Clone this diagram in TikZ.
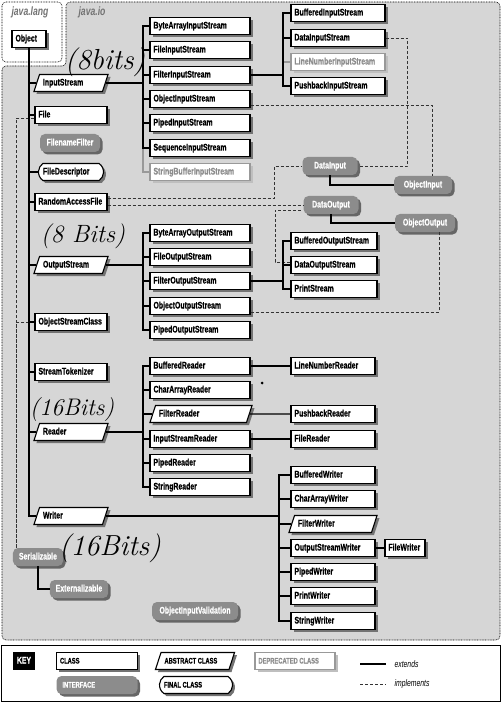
\documentclass[tikz,border=0pt]{standalone}
\usepackage{fontspec}
\usetikzlibrary{shapes.geometric}
\usetikzlibrary{shapes.misc}
\usetikzlibrary{shadows}
\newfontfamily\iosans{Liberation Sans}[FakeStretch=0.72,BoldFeatures={FakeBold=0.6}]
\newcommand\ioboxfont{\iosans\bfseries\fontsize{9.6}{11}\selectfont}
\newcommand\iokeyfont{\iosans\bfseries\fontsize{8}{9}\selectfont}
\colorlet{iogray}{black!16}
\colorlet{ifacegray}{black!45}
\colorlet{shadowgray}{black!55}
\tikzset{
  shade box/.style={drop shadow={shadow xshift=2.5pt,shadow yshift=-2.5pt,opacity=1,fill=#1}},
  shade box/.default=shadowgray,
  box/.style={draw,line width=1.1pt,fill=white,inner xsep=3.5,inner ysep=4,text height=7,text depth=2,align=flush left,font=\ioboxfont},
  class/.style={box,shade box,text width=#1},
  class/.default=93,
  abstract class/.style={box,shade box,trapezium,trapezium left angle=72,trapezium right angle=108,text width=#1},
  final class/.style={box,shade box,rounded rectangle,rounded rectangle arc length=110,text width=#1},
  deprecated class/.style={box,shade box=black!25,draw=black!40,text=black!45,text width=#1},
  interface/.style={fill=ifacegray,text=white,rounded corners=5,inner xsep=6,inner ysep=4.5,text height=7,text depth=2,font=\ioboxfont,shade box=black!60},
  key/.style={fill=black,text=white,inner xsep=4,inner ysep=4.5,text height=7,text depth=2,font=\iosans\bfseries\fontsize{9.5}{10}\selectfont},
  key label/.style={font=\iokeyfont},
  legend/.style={font=\iosans\itshape\fontsize{9.5}{10}\selectfont,anchor=west},
  extends/.style={line width=1.1pt},
  implements/.style={line width=0.7pt,draw=black!80,dash pattern=on 3pt off 2pt},
  region/.style={line width=0.6pt,dash pattern=on 0.8pt off 0.8pt,rounded corners=4},
  package/.style={font=\iosans\bfseries\itshape\fontsize{12}{13}\selectfont,text=black!55},
  scribble/.style={font=\itshape\fontsize{#1}{#1}\selectfont}
}

\begin{document}
\begin{tikzpicture}[x=1pt,y=-1pt]
    \useasboundingbox (0,0) rectangle (502,703);

    % packages
    \draw[region,fill=iogray] (66,2) -- (500,2) -- (500,640) -- (2,640) -- (2,66) -- (66,66) -- cycle;
    \draw[region,fill=white] (2,2) rectangle (62,62);
    \node[package] (lang) at (30,12) {java.lang};
    \node[package] (io) at (92,12) {java.io};

    \node[class=27] (obj) at (29,39) {Object};

    \node[abstract class=56] (is) at (71,83) {InputStream};
    \node[class=65] (file) at (71,115) {File};
    \node[interface,minimum width=60] (fnf) at (70,143) {FilenameFilter};
    \node[final class=56] (fd) at (71,172) {FileDescriptor};
    \node[class=65] (raf) at (71,202) {RandomAccessFile};
    \node[abstract class=56] (os) at (71,265) {OutputStream};
    \node[class=65] (osc) at (71,322) {ObjectStreamClass};
    \node[class=65] (st) at (71,372) {StreamTokenizer};
    \node[abstract class=56] (rd) at (71,432) {Reader};
    \node[abstract class=56] (wr) at (71,516) {Writer};
    \node[interface,minimum width=48] (ser) at (38,557) {Serializable};
    \node[interface,minimum width=58] (ext) at (79,589) {Externalizable};
    \node[interface,minimum width=86] (oiv) at (195,611) {ObjectInputValidation};

    \node[class] (bais) at (200,26) {ByteArrayInputStream};
    \node[class] (fis) at (200,50) {FileInputStream};
    \node[class] (flis) at (200,75) {FilterInputStream};
    \node[class] (ois) at (200,99) {ObjectInputStream};
    \node[class] (pis) at (200,123) {PipedInputStream};
    \node[class] (sis) at (200,148) {SequenceInputStream};
    \node[deprecated class=93] (sbis) at (200,172) {StringBufferInputStream};

    \node[class=87] (bis) at (338,13) {BufferedInputStream};
    \node[class=87] (dis) at (338,38) {DataInputStream};
    \node[deprecated class=87] (lnis) at (338,62) {LineNumberInputStream};
    \node[class=87] (pbis) at (338,86) {PushbackInputStream};

    \node[interface,minimum width=55] (di) at (330,166) {DataInput};
    \node[interface,minimum width=58] (oi) at (423,185) {ObjectInput};
    \node[interface,minimum width=55] (do) at (331,205) {DataOutput};
    \node[interface,minimum width=60] (oo) at (425,223) {ObjectOutput};

    \node[class] (baos) at (200,233) {ByteArrayOutputStream};
    \node[class] (fos) at (200,257) {FileOutputStream};
    \node[class] (flos) at (200,281) {FilterOutputStream};
    \node[class] (oos) at (200,306) {ObjectOutputStream};
    \node[class] (pos) at (200,330) {PipedOutputStream};

    \node[class=79] (bos) at (334,241) {BufferedOutputStream};
    \node[class=79] (dos) at (334,265) {DataOutputStream};
    \node[class=79] (ps) at (334,289) {PrintStream};

    \node[class] (br) at (200,366) {BufferedReader};
    \node[class] (car) at (200,390) {CharArrayReader};
    \node[abstract class=84] (flr) at (201,414) {FilterReader};
    \node[class] (isr) at (200,439) {InputStreamReader};
    \node[class] (pr) at (200,463) {PipedReader};
    \node[class] (sr) at (200,487) {StringReader};

    \node[class=77] (lnr) at (333,366) {LineNumberReader};
    \node[class=77] (pbr) at (333,414) {PushbackReader};
    \node[class=77] (fr) at (333,439) {FileReader};

    \node[class=77] (bw) at (333,475) {BufferedWriter};
    \node[class=77] (cw) at (333,499) {CharArrayWriter};
    \node[abstract class=70] (flw) at (333,524) {FilterWriter};
    \node[class=77] (osw) at (333,548) {OutputStreamWriter};
    \node[class=77] (pw) at (333,572) {PipedWriter};
    \node[class=77] (prw) at (333,596) {PrintWriter};
    \node[class=77] (sw) at (333,621) {StringWriter};
    \node[class=33] (fw) at (405,548) {FileWriter};

    % implements
    \draw[implements] ([yshift=-3pt]file.west) -| ([xshift=4pt]ser.north west);
    \draw[implements] (osc.west) -| ([xshift=4pt]ser.north west);
    \draw[implements] ([yshift=4pt]raf.east) -| ([xshift=-28pt]di.west) -- (di.west);
    \draw[implements] (raf.east |- do.west) -- (do.west);
    \draw[implements] (dis.east) -- ++(22,0) |- (di.east);
    \draw[implements] ([yshift=-6pt]ois.east) -| ([xshift=9pt]oi.north);
    \draw[implements] ([yshift=3pt]dos.west) -- ++(-15,0) |- ([yshift=-5pt]do.west);
    \draw[implements] ([yshift=-6pt]oos.east) -| ([xshift=14pt]oo.south);

    % extends
    \foreach \n in {is,file,fd,raf,os,osc,st,rd,wr}
      \draw[extends] (obj.south) |- (\n.west);

    \coordinate (isj) at (143,83);
    \draw[extends,draw=black!40] (isj) |- (sbis.west);
    \draw[extends] (is.east) -- (isj);
    \foreach \n in {bais,fis,flis,ois,pis,sis}
      \draw[extends] (isj) |- (\n.west);

    \coordinate (flisj) at (283,75);
    \draw[extends,draw=black!40] (flisj) |- (lnis.west);
    \draw[extends] (flis.east) -- (flisj);
    \foreach \n in {bis,dis,pbis}
      \draw[extends] (flisj) |- (\n.west);

    \coordinate (osj) at (143,265);
    \draw[extends] (os.east) -- (osj);
    \foreach \n in {baos,fos,flos,oos,pos}
      \draw[extends] (osj) |- (\n.west);

    \coordinate (flosj) at (283,281);
    \draw[extends] (flos.east) -- (flosj);
    \foreach \n in {bos,dos,ps}
      \draw[extends] (flosj) |- (\n.west);

    \coordinate (rdj) at (143,432);
    \draw[extends] (rd.east) -- (rdj);
    \foreach \n in {br,car,flr,isr,pr,sr}
      \draw[extends] (rdj) |- (\n.west);
    \draw[extends] (br) -- (lnr);
    \draw[extends] (flr) -- (pbr);
    \draw[extends] (isr) -- (fr);

    \coordinate (wrj) at (279,516);
    \draw[extends] (wr.east) -- (wrj);
    \foreach \n in {bw,cw,flw,osw,pw,prw,sw}
      \draw[extends] (wrj) |- (\n.west);
    \draw[extends] (osw) -- (fw);

    \draw[extends] (di.south) |- (oi.west);
    \draw[extends] (do.south) |- (oo.west);
    \draw[extends] (ser.south) |- (ext.west);

    % key
    \draw[line width=0.8pt,fill=white] (1,645) rectangle (500,701);
    \node[key] (keyhead) at (24,661) {KEY};
    \node[class=74,key label] (kcls) at (97,661) {CLASS};
    \node[abstract class=61,key label] (kabs) at (195,661) {ABSTRACT CLASS};
    \node[deprecated class=73,key label] (kdep) at (295,661) {DEPRECATED CLASS};
    \node[interface,text width=69,key label] (kint) at (97,685) {INTERFACE};
    \node[final class=64,key label] (kfin) at (196,685) {FINAL CLASS};
    \coordinate (kext a) at (360,664);
    \coordinate (kext b) at (386,664);
    \draw[extends] (kext a) -- (kext b);
    \node[legend] (kext) at (391,664) {extends};
    \coordinate (kimp a) at (360,684);
    \coordinate (kimp b) at (386,684);
    \draw[implements] (kimp a) -- (kimp b);
    \node[legend] (kimp) at (391,684) {implements};

    % notes by hand
    \node[scribble=29] (note is) at (105,62) {(8bits)};
    \node[scribble=25] (note os) at (83,236) {(8 Bits)};
    \node[scribble=24] (note rd) at (72,410) {(16Bits)};
    \node[scribble=29] (note wr) at (110,548) {(16Bits)};
    \fill (262,383) circle (1.5);

\end{tikzpicture}
\end{document}
